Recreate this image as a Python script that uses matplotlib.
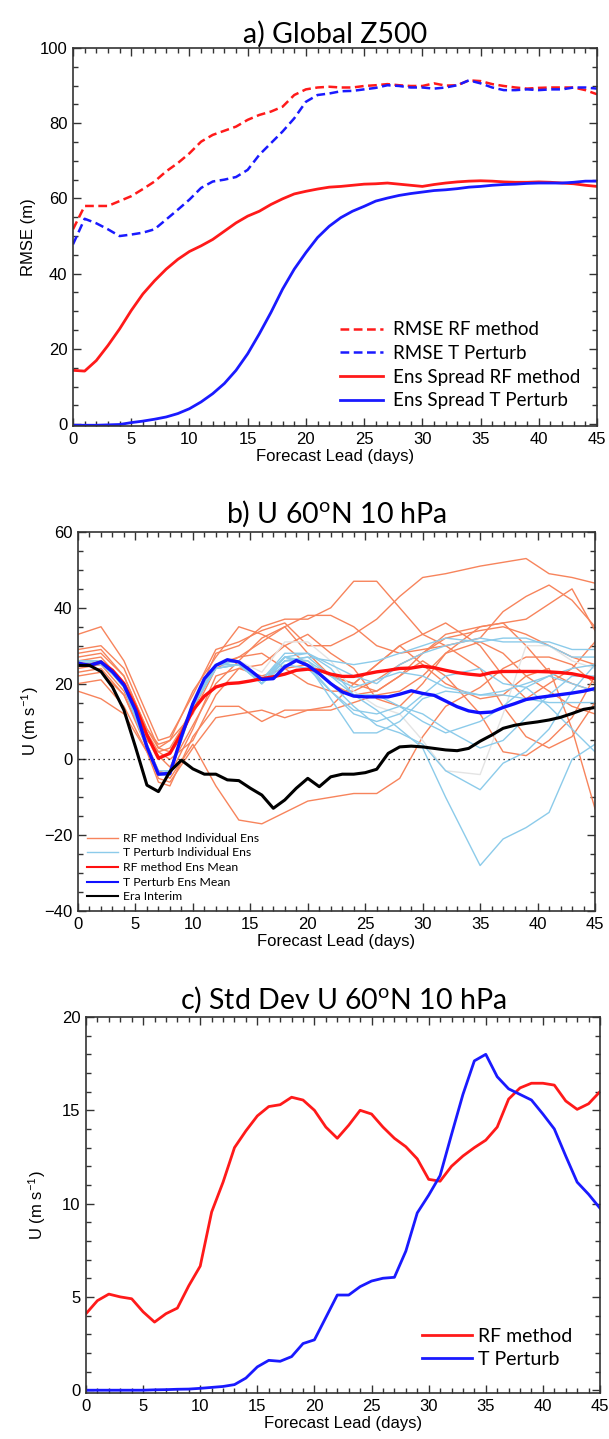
import matplotlib
matplotlib.use("Agg")
import matplotlib.pyplot as plt
from matplotlib.ticker import MultipleLocator

plt.rcParams['font.family'] = ['Liberation Sans', 'DejaVu Sans']
plt.rcParams['mathtext.fontset'] = 'custom'
plt.rcParams['mathtext.rm'] = 'Lato'
plt.rcParams['mathtext.it'] = 'Lato'

# ---------------- data ----------------
days = list(range(46))

# a) Global Z500
rmse_rf = [51.8, 58.0, 58.0, 58.0, 59.3, 60.6, 62.5, 64.5, 67.2, 69.4, 72.0, 75.1, 76.9, 78.0,
           79.1, 80.9, 82.2, 83.1, 84.4, 87.5, 89.0, 89.5, 89.7, 89.5, 89.5, 89.9, 90.1, 90.4,
           90.1, 89.9, 89.9, 90.6, 90.0, 90.1, 91.4, 91.2, 90.4, 89.9, 89.5, 89.2, 89.4, 89.5,
           89.5, 89.5, 88.8, 87.7]
rmse_tp = [47.8, 54.6, 53.4, 51.8, 50.0, 50.4, 50.9, 51.8, 54.4, 57.0, 59.7, 62.8, 64.5, 65.0,
           65.7, 67.6, 71.6, 74.7, 77.8, 81.3, 85.7, 87.5, 87.9, 88.5, 88.6, 89.0, 89.4, 90.1,
           89.9, 89.5, 89.5, 89.2, 89.5, 90.1, 91.4, 90.6, 89.5, 88.8, 88.8, 89.0, 88.8, 89.0,
           89.0, 89.5, 89.5, 89.2]
spread_rf = [14.3, 14.1, 16.9, 20.9, 25.3, 30.2, 34.6, 38.1, 41.2, 43.8, 45.9, 47.4, 49.1, 51.3,
             53.5, 55.3, 56.6, 58.4, 59.9, 61.2, 61.9, 62.5, 63.0, 63.2, 63.5, 63.8, 63.9, 64.1,
             63.8, 63.5, 63.2, 63.7, 64.1, 64.4, 64.6, 64.7, 64.6, 64.4, 64.3, 64.3, 64.4, 64.3,
             64.1, 63.9, 63.5, 63.2]
spread_tp = [-0.3, -0.3, -0.3, -0.2, -0.1, 0.4, 0.8, 1.3, 1.9, 2.8, 4.1, 5.9, 8.1, 10.8,
             14.3, 18.7, 24.0, 29.7, 35.9, 41.2, 45.6, 49.6, 52.6, 54.9, 56.6, 57.9, 59.3, 60.1,
             60.8, 61.3, 61.7, 62.1, 62.3, 62.6, 63.0, 63.2, 63.5, 63.7, 63.8, 64.0, 64.1, 64.1,
             64.1, 64.3, 64.6, 64.6]

# b) U 60N 10 hPa
era = [24.8, 24.8, 23.2, 19.1, 13.0, 3.3, -6.8, -8.5, -3.2, -0.2, -2.5, -3.9, -3.9, -5.4,
       -5.6, -7.6, -9.4, -12.9, -10.7, -7.6, -5.0, -7.2, -4.6, -3.9, -3.9, -3.5, -2.6, 1.6,
       3.3, 3.5, 3.3, 2.9, 2.5, 2.3, 2.9, 4.8, 6.4, 8.2, 9.0, 9.5, 9.9, 10.4, 11.1, 12.1,
       13.2, 13.7]
mean_rf = [25.3, 24.8, 25.7, 23.5, 20.0, 13.9, 6.4, 0.3, 1.6, 6.8, 13.0, 16.7, 19.1, 20.0,
           20.2, 20.7, 21.3, 21.8, 22.5, 23.5, 23.8, 23.5, 22.5, 21.9, 21.9, 22.5, 23.1, 23.5,
           24.0, 24.1, 24.6, 24.2, 23.5, 22.9, 22.5, 22.2, 22.9, 23.2, 23.2, 23.2, 23.2, 23.1,
           22.9, 22.6, 22.0, 21.3]
mean_tp = [25.4, 24.8, 25.7, 23.1, 19.6, 13.0, 3.3, -3.9, -3.7, 6.0, 14.7, 21.3, 24.8, 26.3,
           25.7, 23.5, 21.1, 21.3, 24.4, 26.1, 24.8, 22.6, 20.0, 17.8, 16.7, 16.5, 16.5, 16.5,
           17.2, 18.1, 17.4, 16.9, 15.4, 13.9, 12.8, 12.3, 12.5, 13.7, 14.7, 15.8, 16.3, 16.7,
           17.1, 17.5, 18.0, 18.7]

ens_days = [0, 2, 4, 6, 7, 8, 10, 12, 14, 16, 18, 20, 22, 24, 26, 28, 30, 32, 35, 37, 39, 41, 43, 45]
rf_members = [
    [33, 35, 26, 12, 5, 6, 17, 29, 31, 34, 36, 30, 30, 33, 37, 43, 48, 49, 51, 52, 53, 49, 48, 46.5],
    [29, 30, 24, 10, 3, 2, 14, 28, 30, 35, 37, 37, 40, 47, 47, 40, 33, 30, 24, 14, 6, 3, 6, 15],
    [28, 29, 22, 8, 4, 5, 12, 24, 27, 31, 35, 38, 38, 35, 30, 28, 29, 30, 32, 39, 43, 46, 42, 35],
    [26, 27, 20, 6, 1, -2, 9, 20, 26, 32, 35, 28, 22, 20, 18, 22, 28, 33, 35, 36, 37, 41, 45, 34],
    [24, 25, 18, 5, 2, 0, 5, 17, 24, 22, 24, 25, 22, 20, 25, 30, 25, 20, 16, 17, 22, 24, 8, -13],
    [23, 24, 17, 4, -3, -5, 4, -7, -16, -17, -14, -11, -10, -9, -9, -5, 6, 14, 19, 24, 27, 27, 25, 20],
    [22, 23, 17, 3, -5, -6, 3, 11, 12, 13, 11, 13, 13, 15, 17, 18, 22, 28, 31, 28, 22, 18, 14, 12],
    [20, 21, 14, 2, -6, -7, 6, 14, 14, 10, 13, 13, 14, 20, 25, 30, 33, 36, 30, 22, 16, 20, 24, 31],
    [18, 16, 12, 2, -3, -4, 8, 22, 24, 25, 30, 33, 28, 24, 16, 14, 20, 28, 35, 36, 30, 23, 20, 18],
    [27, 28, 22, 8, 3, 5, 18, 27, 35, 33, 30, 25, 20, 17, 18, 22, 26, 22, 12, 2, 1, 5, 11, 22],
    [25, 26, 20, 7, 2, 3, 13, 25, 27, 28, 24, 20, 18, 18, 21, 25, 28, 32, 34, 35, 33, 30, 27, 25],
]
tp_members = [
    [25, 26, 20, 4, -3, -3, 15, 25, 25, 20, 26, 27, 22, 17, 13, 8, 3, -10, -28, -21, -18, -14, 0, 4],
    [25, 26, 19, 3, -4, -4, 14, 24, 25, 21, 27, 26, 20, 14, 9, 7, 4, -3, -8, -1, 2, 8, 18, 25],
    [26, 26, 20, 3, -4, -3, 15, 25, 26, 20, 25, 24, 18, 12, 10, 12, 17, 22, 24, 20, 19, 14, 8, 2],
    [25, 25, 20, 4, -4, -4, 15, 25, 26, 21, 28, 28, 25, 22, 20, 25, 28, 30, 32, 31, 31, 31, 29, 29],
    [25, 26, 19, 3, -4, -3, 14, 24, 25, 20, 26, 27, 26, 25, 26, 28, 30, 32, 31, 32, 32, 30, 27, 27],
    [25, 26, 20, 3, -4, -4, 15, 25, 26, 21, 27, 25, 16, 7, 7, 10, 16, 18, 17, 17, 16, 15, 15, 15],
    [25, 26, 20, 3, -4, -4, 15, 25, 25, 20, 27, 25, 18, 13, 12, 14, 10, 7, 10, 14, 19, 22, 24, 25],
    [25, 26, 20, 3, -4, -4, 14, 24, 25, 20, 26, 26, 22, 19, 21, 23, 22, 19, 17, 18, 20, 22, 20, 18],
    [26, 26, 20, 4, -4, -3, 15, 25, 26, 20, 27, 28, 24, 17, 17, 14, 12, 8, 3, 5, 11, 17, 22, 22],
]
grey_member = [25, 26, 20, 4, -4, -4, 15, 25, 26, 23, 31, 31, 26, 18, 14, 12, 5, -3, -4, 12, 30, 30, 26, 24]

# c) Std Dev U 60N 10 hPa
std_rf = [4.1, 4.8, 5.15, 5.0, 4.9, 4.2, 3.65, 4.1, 4.4, 5.6, 6.65, 9.55, 11.15, 13.0, 13.9,
          14.7, 15.2, 15.3, 15.7, 15.55, 15.0, 14.1, 13.5, 14.2, 15.0, 14.8, 14.1, 13.5, 13.05,
          12.4, 11.3, 11.2, 12.0, 12.55, 13.0, 13.4, 14.1, 15.6, 16.2, 16.45, 16.45, 16.35,
          15.5, 15.05, 15.35, 16.0]
std_tp = [0.0, 0.0, 0.0, 0.0, 0.0, 0.0, 0.02, 0.03, 0.05, 0.06, 0.1, 0.15, 0.2, 0.3, 0.65,
          1.25, 1.6, 1.55, 1.8, 2.5, 2.7, 3.9, 5.1, 5.1, 5.55, 5.85, 6.0, 6.05, 7.45, 9.5,
          10.45, 11.5, 13.7, 15.85, 17.65, 18.0, 16.8, 16.15, 15.85, 15.55, 14.8, 14.0, 12.55,
          11.15, 10.5, 9.75]

W, H = 609, 1439
fig = plt.figure(figsize=(W / 100, H / 100), dpi=100)


def make_axes(left, right, top, bottom):
    return fig.add_axes([left / W, 1 - bottom / H, (right - left) / W, (bottom - top) / H])


def style_axes(ax, ymajor, yminor):
    ax.set_xlim(0, 45)
    ax.xaxis.set_major_locator(MultipleLocator(5))
    ax.xaxis.set_minor_locator(MultipleLocator(1))
    ax.yaxis.set_major_locator(MultipleLocator(ymajor))
    ax.yaxis.set_minor_locator(MultipleLocator(yminor))
    ax.tick_params(which='both', direction='in', top=True, right=True,
                   labelsize=12, color='#333333', pad=4)
    ax.tick_params(which='major', length=6, width=1)
    ax.tick_params(which='minor', length=3.5, width=1)
    for sp in ax.spines.values():
        sp.set_linewidth(1.2)
        sp.set_color('#333333')
    ax.set_xlabel('Forecast Lead (days)', fontsize=12, labelpad=2)


title_kw = dict(fontsize=20.5, family=['Lato', 'DejaVu Sans'])
leg_font = {'family': ['Lato', 'DejaVu Sans']}

# ---- panel a ----
ax1 = make_axes(73, 597, 48, 426)
ax1.plot(days, rmse_rf, color='#ff1a1a', lw=1.8, ls=(0, (3.5, 1.8)), label='RMSE RF method')
ax1.plot(days, rmse_tp, color='#1a1aff', lw=1.8, ls=(0, (3.5, 1.8)), label='RMSE T Perturb')
ax1.plot(days, spread_rf, color='#ff1a1a', lw=2, label='Ens Spread RF method')
ax1.plot(days, spread_tp, color='#1a1aff', lw=2, label='Ens Spread T Perturb')
ax1.set_ylim(-0.5, 100)
style_axes(ax1, 20, 5)
ax1.set_ylabel('RMSE (m)', fontsize=12, labelpad=3)
ax1.set_title('a) Global Z500', pad=2, **title_kw)
ax1.legend(loc='lower right', frameon=False, prop=dict(size=13.5, **leg_font),
           handlelength=2.3, handletextpad=0.5, labelspacing=0.35,
           bbox_to_anchor=(1.0, 0.0))

# ---- panel b ----
ax2 = make_axes(78, 595, 532, 911)
for m in rf_members:
    ax2.plot(ens_days, m, color='#f7845c', lw=1.0)
ax2.plot(ens_days, grey_member, color='#e4e4e4', lw=1.0)
for m in tp_members:
    ax2.plot(ens_days, m, color='#8ccbea', lw=1.0)
ax2.axhline(0, color='black', lw=0.9, ls=(0, (1, 3)))
ax2.plot(days, mean_rf, color='#ff1010', lw=2.4)
ax2.plot(days, mean_tp, color='#1010ff', lw=2.4)
ax2.plot(days, era, color='black', lw=2.2)
ax2.set_ylim(-40, 60)
style_axes(ax2, 20, 5)
ax2.set_ylabel('U (m s$^{-1}$)', fontsize=12, labelpad=2)
ax2.set_title(r'b) U 60$^{\mathrm{o}}$N 10 hPa', pad=7, **title_kw)
leg_handles = [
    plt.Line2D([], [], color='#f7845c', lw=1.0),
    plt.Line2D([], [], color='#8ccbea', lw=1.0),
    plt.Line2D([], [], color='#ff1010', lw=1.5),
    plt.Line2D([], [], color='#1010ff', lw=1.5),
    plt.Line2D([], [], color='black', lw=1.5),
]
leg_labels = ['RF method Individual Ens', 'T Perturb Individual Ens', 'RF method Ens Mean',
              'T Perturb Ens Mean', 'Era Interim']
ax2.legend(leg_handles, leg_labels, loc='lower left', frameon=False,
           prop=dict(size=8.8, **leg_font), handlelength=2.6, handletextpad=0.4,
           labelspacing=0.3, bbox_to_anchor=(0.0, 0.0), borderaxespad=0.3)

# ---- panel c ----
ax3 = make_axes(86, 600, 1017, 1393)
ax3.plot(days, std_rf, color='#ff1a1a', lw=2, label='RF method')
ax3.plot(days, std_tp, color='#1a1aff', lw=2, label='T Perturb')
ax3.set_ylim(-0.15, 20)
style_axes(ax3, 5, 1)
ax3.set_ylabel('U (m s$^{-1}$)', fontsize=12, labelpad=10)
ax3.set_title(r'c) Std Dev U 60$^{\mathrm{o}}$N 10 hPa', pad=6, **title_kw)
ax3.legend(loc='lower right', frameon=False, prop=dict(size=14, **leg_font),
           handlelength=2.6, handletextpad=0.3, labelspacing=0.3,
           bbox_to_anchor=(0.98, 0.02))

fig.savefig('out.png', dpi=100)
